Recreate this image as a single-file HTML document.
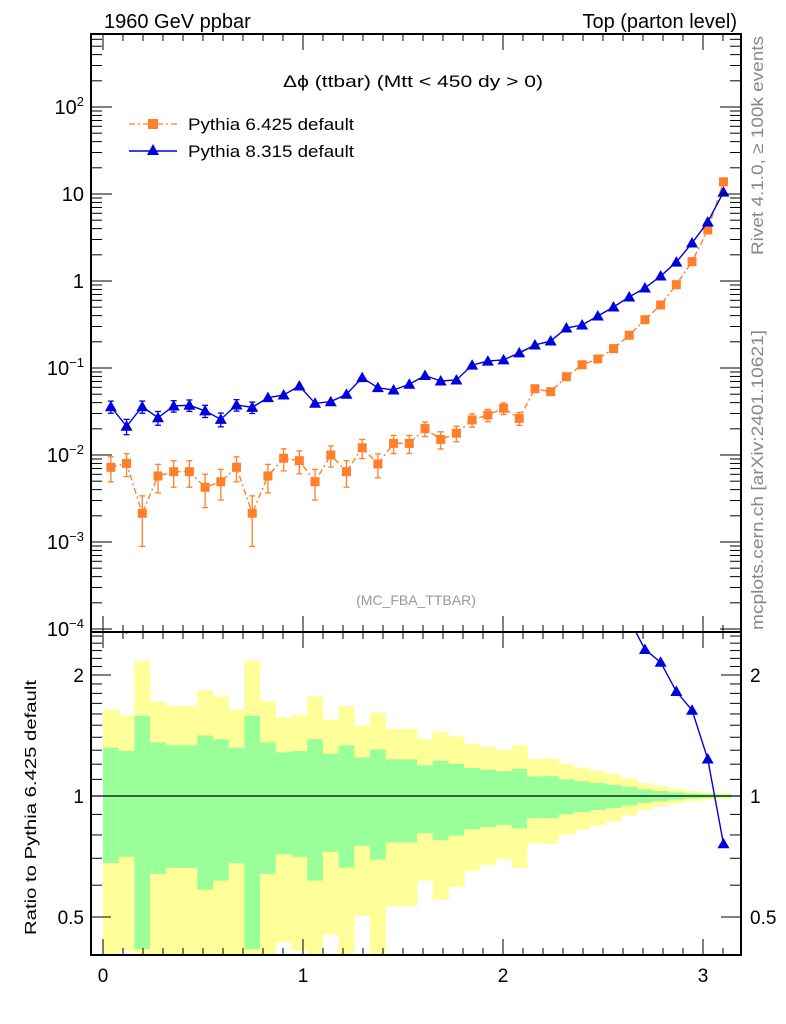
<!DOCTYPE html>
<html><head><meta charset="utf-8">
<style>
html,body{margin:0;padding:0;background:#fff;}
svg{display:block;font-family:"Liberation Sans",sans-serif;}
</style></head>
<body>
<svg id="chart" width="786" height="1024" viewBox="0 0 786 1024" xmlns="http://www.w3.org/2000/svg">
<g id="bands"></g>
<g id="marks"></g>
<g id="axes"></g>
<text x="104" y="28" font-size="20">1960 GeV ppbar</text>
<text x="737" y="28" font-size="20" text-anchor="end">Top (parton level)</text>
<text x="283" y="87" font-size="17" textLength="260" lengthAdjust="spacingAndGlyphs">Δϕ (ttbar) (Mtt &lt; 450 dy &gt; 0)</text>
<text x="416" y="605" font-size="14" fill="#999" text-anchor="middle">(MC_FBA_TTBAR)</text>
<text font-size="17" fill="#888" textLength="219" lengthAdjust="spacingAndGlyphs" transform="translate(763,255) rotate(-90)">Rivet 4.1.0, ≥ 100k events</text>
<text font-size="17" fill="#888" textLength="300" lengthAdjust="spacingAndGlyphs" transform="translate(763,630) rotate(-90)">mcplots.cern.ch [arXiv:2401.10621]</text>
<text font-size="16" textLength="255" lengthAdjust="spacingAndGlyphs" transform="translate(36,935) rotate(-90)">Ratio to Pythia 6.425 default</text>
<g>
<g>
<line x1="129" y1="124" x2="177" y2="124" stroke="#ff7f2a" stroke-width="1.3" stroke-dasharray="6,3,2,3"/>
<rect x="148" y="119" width="10" height="10" fill="#ff7f2a"/>
<text x="188" y="130" font-size="17" textLength="166" lengthAdjust="spacingAndGlyphs">Pythia 6.425 default</text></g>
<g>
<line x1="129" y1="151" x2="177" y2="151" stroke="#0000dd" stroke-width="1.5"/>
<polygon points="153,144 159,155 147,155" fill="#0000dd"/>
<text x="188" y="157" font-size="17" textLength="166" lengthAdjust="spacingAndGlyphs">Pythia 8.315 default</text></g>
</g>
</svg>
<script>
const p6Values=[0.00722,0.0080,0.00214,0.00574,0.00643,0.00643,0.00425,0.00493,0.00722,0.00214,0.00574,0.00917,0.0086,0.00493,0.0100,0.00643,0.0121,0.00788,0.0136,0.0136,0.0201,0.0151,0.0178,0.0253,0.0288,0.0344,0.0264,0.0578,0.0534,0.0794,0.109,0.127,0.167,0.238,0.359,0.53,0.907,1.67,3.86,13.8];
const p6RelErr=[0.319,0.294,0.584,0.36,0.337,0.337,0.415,0.384,0.319,0.584,0.36,0.284,0.294,0.384,0.274,0.337,0.248,0.306,0.234,0.234,0.192,0.224,0.203,0.174,0.163,0.152,0.169,0.119,0.12,0.1,0.088,0.077,0.067,0.053,0.039,0.029,0.021,0.015,0.011,0.008];
const p8Values=[0.0359,0.0214,0.0359,0.0268,0.0366,0.0373,0.0321,0.0257,0.0376,0.0353,0.0456,0.049,0.0621,0.0393,0.041,0.0499,0.0774,0.0594,0.0558,0.065,0.082,0.0709,0.0728,0.108,0.12,0.124,0.149,0.184,0.204,0.288,0.312,0.396,0.503,0.655,0.831,1.14,1.65,2.73,4.77,10.5];
const p8RelErr=[0.16,0.2,0.16,0.18,0.15,0.15,0.16,0.18,0.15,0.15,0.13,0.13,0.11,0.14,0.13,0.12,0.1,0.11,0.11,0.1,0.09,0.09,0.09,0.07,0.07,0.06,0.06,0.05,0.05,0.04,0.04,0.035,0.03,0.03,0.025,0.02,0.02,0.015,0.01,0.008];
const mainYTicks=[-4,-3,-2,-1,0,1,2];
const mainYLabels=["10<tspan dy='-8' font-size='13'>−4</tspan>","10<tspan dy='-8' font-size='13'>−3</tspan>","10<tspan dy='-8' font-size='13'>−2</tspan>","10<tspan dy='-8' font-size='13'>−1</tspan>","1","10","10<tspan dy='-8' font-size='13'>2</tspan>"];
const ratioYTicks=[0.5,1,2];
const ratioYLabels=["0.5","1","2"];
const xTicks=[0,1,2,3];
const nBins=40, xMin=0, xMax=Math.PI;

const NS="http://www.w3.org/2000/svg";
const L=91,R=741,T=34,MB=632,RB=955;
const sx=v=>103+200*v;
const syMain=v=>281-87*Math.log10(v);
const syRatio=v=>796-402*Math.log10(v);
function mk(tag,attrs,parent){const e=document.createElementNS(NS,tag);for(const k in attrs)e.setAttribute(k,attrs[k]);parent.appendChild(e);return e;}
const bands=document.getElementById('bands'),marks=document.getElementById('marks'),axes=document.getElementById('axes');
const bw=(xMax-xMin)/nBins;
const ratioTop=10**((796-MB)/402), ratioBot=10**((796-RB)/402);
const clampR=v=>Math.min(ratioTop,Math.max(ratioBot,v));
for(let i=0;i<nBins;i++){
  const x0=sx(i*bw),x1=sx((i+1)*bw),e=p6RelErr[i];
  const yU=syRatio(clampR(1+2*e)),yL=syRatio(clampR(Math.max(1e-3,1-2*e)));
  const r1=mk('rect',{x:x0,y:yU,width:x1-x0+0.3,height:yL-yU,fill:'#ffff99'},bands);
  
  
  const gU=syRatio(clampR(1+e)),gL=syRatio(clampR(Math.max(1e-3,1-e)));
  const r2=mk('rect',{x:x0,y:gU,width:x1-x0+0.3,height:gL-gU,fill:'#99ff99'},bands);
  
  
}
mk('line',{x1:L,x2:R,y1:796,y2:796,stroke:'#000','stroke-width':1.2},bands);
const defs=mk('defs',{},marks);
const c1=mk('clipPath',{id:'cm'},defs);mk('rect',{x:L,y:T,width:R-L,height:MB-T},c1);
const c2=mk('clipPath',{id:'cr'},defs);mk('rect',{x:L,y:MB,width:R-L,height:RB-MB},c2);
const gm=mk('g',{'clip-path':'url(#cm)'},marks), gr=mk('g',{'clip-path':'url(#cr)'},marks);
const cx=i=>sx((i+0.5)*bw);
function series(vals,errs,color,dash,shape,name){
  const pts=vals.map((v,i)=>cx(i)+','+syMain(v)).join(' ');
  const pl=mk('polyline',{points:pts,fill:'none',stroke:color,'stroke-width':1.4},gm);
  if(dash)pl.setAttribute('stroke-dasharray',dash);
  
  
  vals.forEach((v,i)=>{
    const x=cx(i),y=syMain(v),yu=syMain(v*(1+errs[i])),yd=syMain(Math.max(1e-6,v*(1-errs[i])));
    if(y-yu>5){mk('line',{x1:x,x2:x,y1:yu,y2:yd,stroke:color,'stroke-width':1.3},gm);
      mk('line',{x1:x-3,x2:x+3,y1:yu,y2:yu,stroke:color,'stroke-width':1.3},gm);
      mk('line',{x1:x-3,x2:x+3,y1:yd,y2:yd,stroke:color,'stroke-width':1.3},gm);}
    let m;
    if(shape==='sq')m=mk('rect',{x:x-4.5,y:y-4.5,width:9,height:9,fill:color},gm);
    else m=mk('polygon',{points:`${x},${y-6} ${x+6},${y+4.5} ${x-6},${y+4.5}`,fill:color},gm);
    
    
  });
}
series(p6Values,p6RelErr,'#ff7f2a','6,3,2,3','sq','pythia6');
series(p8Values,p8RelErr,'#0000dd',null,'tri','pythia8');
const ratios=p8Values.map((v,i)=>v/p6Values[i]);
const rp=mk('polyline',{points:ratios.map((r,i)=>cx(i)+','+syRatio(r)).join(' '),fill:'none',stroke:'#0000dd','stroke-width':1.4},gr);


ratios.forEach((r,i)=>{const x=cx(i),y=syRatio(r);
  const e=r*Math.sqrt(p8RelErr[i]**2+p6RelErr[i]**2)*0.5;
  mk('line',{x1:x,x2:x,y1:syRatio(r+e*0.3),y2:syRatio(r-e*0.3),stroke:'#0000dd','stroke-width':1.2},gr);
  const m=mk('polygon',{points:`${x},${y-6} ${x+6},${y+4.5} ${x-6},${y+4.5}`,fill:'#0000dd'},gr);
  
  
});
mk('rect',{x:L,y:T,width:R-L,height:MB-T,fill:'none',stroke:'#000','stroke-width':2},axes);
mk('rect',{x:L,y:MB,width:R-L,height:RB-MB,fill:'none',stroke:'#000','stroke-width':2},axes);
const ln=(a,b,c,d,w)=>mk('line',{x1:a,y1:b,x2:c,y2:d,stroke:'#000','stroke-width':w||1},axes);
for(let k=0;k<=32;k++){const v=k/10;const x=sx(v);if(x>R)break;const maj=k%10===0;const len=maj?16:7;
  ln(x,T,x,T+len);ln(x,MB,x,MB-len);ln(x,MB,x,MB+len);ln(x,RB,x,RB-len);}
xTicks.forEach(v=>{const t=mk('text',{x:sx(v),y:982,'font-size':19,'text-anchor':'middle'},axes);t.textContent=v;
  
  });
for(let d=-4;d<=2;d++){for(let m=1;m<=9;m++){const v=m*10**d;const y=syMain(v);if(y<T||y>MB)continue;const len=m===1?21:11;ln(L,y,L+len,y);ln(R,y,R-len,y);}}
mainYTicks.forEach((d,i)=>{const t=mk('text',{x:84,y:syMain(10**d)+7,'font-size':20,'text-anchor':'end'},axes);t.innerHTML=mainYLabels[i];
  
  });
for(let v=0.4;v<2.6;v+=0.1){const vv=Math.round(v*10)/10;const y=syRatio(vv);if(y<MB||y>RB)continue;const maj=ratioYTicks.includes(vv);const len=maj?20:11;ln(L,y,L+len,y);ln(R,y,R-len,y);}
ratioYTicks.forEach((v,i)=>{const y=syRatio(v)+7;
  const t=mk('text',{x:84,y:y,'font-size':19,'text-anchor':'end'},axes);t.textContent=ratioYLabels[i];
  
  
  const t2=mk('text',{x:750,y:y,'font-size':19},axes);t2.textContent=ratioYLabels[i];
  
  });
</script>
</body></html>
